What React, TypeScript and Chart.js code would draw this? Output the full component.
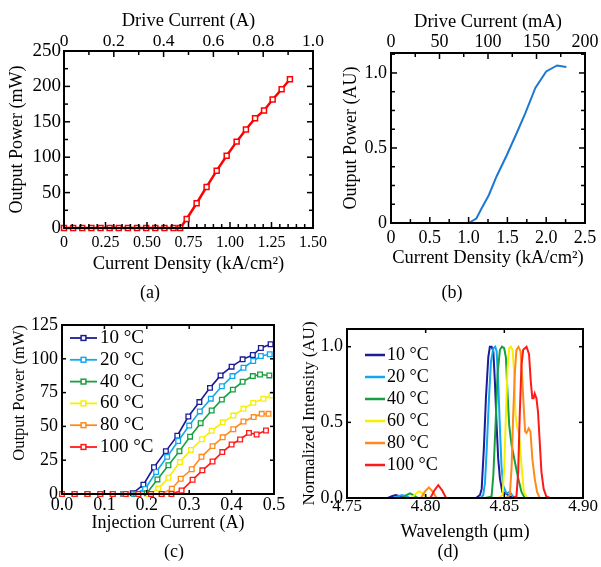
import React, { useEffect, useRef } from 'react';
import { Chart, registerables } from 'chart.js';

Chart.register(...registerables);

const SERIF = "'Liberation Serif', 'Times New Roman', Times, serif";
Chart.defaults.font.family = SERIF;
Chart.defaults.color = '#000';

// ---------------- (a) ----------------
const aDensity = [0, 0.055, 0.11, 0.165, 0.22, 0.275, 0.33, 0.385, 0.44, 0.495, 0.55, 0.605, 0.66, 0.70, 0.739, 0.799, 0.859, 0.92, 0.98, 1.04, 1.096, 1.151, 1.205, 1.257, 1.311, 1.361];
const aPower = [0, 0, 0, 0, 0, 0, 0, 0, 0, 0, 0, 0, 0, 0, 12.7, 35, 58, 81, 102, 122, 139, 155, 166, 181.5, 196, 210];
const aXTicks = [0, 0.25, 0.5, 0.75, 1.0, 1.25, 1.5];
const aTopTicks = [0, 0.2, 0.4, 0.6, 0.8, 1.0];
const aYTicks = [0, 50, 100, 150, 200, 250];

// ---------------- (b) ----------------
const bDensity = [0.68, 1.0, 1.1, 1.17, 1.26, 1.36, 1.49, 1.62, 1.73, 1.86, 2.0, 2.14, 2.26];
const bPower = [0, 0, 0.03, 0.1, 0.185, 0.31, 0.45, 0.6, 0.73, 0.9, 1.01, 1.05, 1.04];
const bXTicks = [0, 0.5, 1.0, 1.5, 2.0, 2.5];
const bTopTicks = [0, 50, 100, 150, 200];
const bYTicks = [0, 0.5, 1.0];

// ---------------- (c) ----------------
const tempLabels = ['10 °C', '20 °C', '40 °C', '60 °C', '80 °C', '100 °C'];
const tempColors = ['#1c1c96', '#12a8f0', '#17a040', '#f7ee00', '#ff8a1c', '#ff1a1a'];

const c10I = [0.0, 0.03, 0.06, 0.09, 0.12, 0.145, 0.167, 0.192, 0.217, 0.245, 0.272, 0.298, 0.324, 0.349, 0.374, 0.400, 0.426, 0.450, 0.469, 0.492];
const c10P = [0, 0, 0, 0, 0, 0, 0.5, 6.9, 19.8, 31.7, 43.1, 57.3, 68, 78.5, 87.7, 94.2, 99.6, 102.8, 108, 110.8];
const c20I = [0.0, 0.03, 0.06, 0.09, 0.12, 0.145, 0.17, 0.196, 0.222, 0.248, 0.274, 0.300, 0.325, 0.351, 0.377, 0.402, 0.428, 0.451, 0.469, 0.490];
const c20P = [0, 0, 0, 0, 0, 0, 0, 3.7, 16.3, 27.5, 39.2, 50.6, 61.1, 70.5, 79.7, 87.2, 93.4, 98.4, 102.1, 103.4];
const c40I = [0.0, 0.03, 0.06, 0.09, 0.12, 0.15, 0.175, 0.2, 0.225, 0.251, 0.277, 0.302, 0.327, 0.353, 0.377, 0.403, 0.426, 0.450, 0.467, 0.489];
const c40P = [0, 0, 0, 0, 0, 0, 0, 0.5, 10.8, 21.3, 31.7, 42.4, 52.4, 61.8, 69.8, 77.2, 83, 87.2, 88.4, 87.7];
const c60I = [0.0, 0.03, 0.06, 0.09, 0.12, 0.15, 0.18, 0.205, 0.227, 0.251, 0.278, 0.304, 0.33, 0.353, 0.379, 0.404, 0.428, 0.451, 0.475, 0.494];
const c60P = [0, 0, 0, 0, 0, 0, 0, 0, 4, 12, 23.6, 32.6, 40.5, 46.8, 53, 58, 63, 67.4, 70.4, 72.9];
const c80I = [0.0, 0.03, 0.06, 0.09, 0.12, 0.15, 0.18, 0.21, 0.235, 0.259, 0.280, 0.306, 0.329, 0.355, 0.379, 0.404, 0.428, 0.452, 0.471, 0.487];
const c80P = [0, 0, 0, 0, 0, 0, 0, 0, 0, 3.9, 11.3, 18.3, 27.5, 35.4, 41.9, 47.9, 53.6, 56.9, 59.3, 59.3];
const c100I = [0.0, 0.03, 0.06, 0.09, 0.12, 0.15, 0.18, 0.21, 0.235, 0.258, 0.282, 0.308, 0.331, 0.355, 0.378, 0.400, 0.420, 0.441, 0.459, 0.481];
const c100P = [0, 0, 0, 0, 0, 0, 0, 0, 0, 0, 2.6, 10.5, 17.5, 24, 31, 36.6, 40.3, 45.2, 44, 47];
const cXTicks = [0, 0.1, 0.2, 0.3, 0.4, 0.5];
const cYTicks = [0, 25, 50, 75, 100, 125];

// ---------------- (d) ----------------
const d10Wl = [4.75, 4.776, 4.7785, 4.781, 4.7835, 4.786, 4.832, 4.8345, 4.8356, 4.837, 4.8383, 4.8398, 4.8408, 4.8419, 4.843, 4.844, 4.8451, 4.8461, 4.8472, 4.8487, 4.851, 4.8535, 4.856, 4.90];
const d10In = [0, 0, 0.012, 0.02, 0.012, 0, 0, 0.02, 0.06, 0.33, 0.66, 0.93, 1.0, 1.0, 0.97, 0.77, 0.48, 0.26, 0.13, 0.04, 0.03, 0.01, 0, 0];
const d20Wl = [4.75, 4.780, 4.7825, 4.785, 4.7875, 4.790, 4.835, 4.8366, 4.8377, 4.8387, 4.8402, 4.8415, 4.843, 4.8442, 4.8451, 4.8461, 4.8472, 4.8482, 4.8493, 4.8514, 4.8535, 4.8556, 4.858, 4.90];
const d20In = [0, 0, 0.012, 0.02, 0.012, 0, 0, 0.02, 0.1, 0.3, 0.65, 0.9, 0.99, 1.0, 0.97, 0.77, 0.46, 0.21, 0.08, 0.03, 0.04, 0.01, 0, 0];
const d40Wl = [4.75, 4.785, 4.7875, 4.790, 4.7925, 4.795, 4.838, 4.8419, 4.843, 4.8444, 4.8457, 4.8472, 4.8485, 4.8499, 4.851, 4.852, 4.8531, 4.8546, 4.8567, 4.8588, 4.8609, 4.863, 4.90];
const d40In = [0, 0, 0.018, 0.03, 0.018, 0, 0, 0.01, 0.15, 0.48, 0.82, 0.98, 1.0, 0.99, 0.93, 0.7, 0.48, 0.35, 0.24, 0.13, 0.04, 0, 0];
const d60Wl = [4.75, 4.791, 4.7935, 4.796, 4.7985, 4.801, 4.846, 4.8489, 4.8499, 4.851, 4.852, 4.8531, 4.8541, 4.8552, 4.8562, 4.8571, 4.8581, 4.8594, 4.8609, 4.8624, 4.8645, 4.90];
const d60In = [0, 0, 0.027, 0.045, 0.027, 0, 0, 0.02, 0.2, 0.54, 0.85, 0.99, 1.0, 0.98, 0.84, 0.55, 0.47, 0.42, 0.22, 0.04, 0, 0];
const d80Wl = [4.75, 4.797, 4.7995, 4.802, 4.8045, 4.807, 4.851, 4.8535, 4.8546, 4.8556, 4.8567, 4.8577, 4.859, 4.8603, 4.8613, 4.8624, 4.8632, 4.8641, 4.8655, 4.8666, 4.8678, 4.8693, 4.8708, 4.8725, 4.90];
const d80In = [0, 0, 0.042, 0.07, 0.042, 0, 0, 0.02, 0.2, 0.54, 0.83, 0.98, 1.0, 0.97, 0.81, 0.59, 0.44, 0.43, 0.46, 0.44, 0.26, 0.13, 0.04, 0, 0];
const d100Wl = [4.75, 4.803, 4.8055, 4.808, 4.8105, 4.813, 4.855, 4.8577, 4.8588, 4.8598, 4.8609, 4.862, 4.8641, 4.8657, 4.8668, 4.8678, 4.8686, 4.8693, 4.8704, 4.8714, 4.8725, 4.8736, 4.875, 4.8767, 4.879, 4.90];
const d100In = [0, 0, 0.05, 0.085, 0.05, 0, 0, 0.01, 0.17, 0.55, 0.88, 0.98, 1.0, 0.95, 0.77, 0.66, 0.66, 0.69, 0.66, 0.57, 0.37, 0.17, 0.06, 0.01, 0, 0];
const dXTicks = [4.75, 4.80, 4.85, 4.90];
const dYTicks = [0, 0.5, 1.0];

// ---------------- helpers ----------------
const pts = (xs: number[], ys: number[]) => xs.map((x, i) => ({ x, y: ys[i] }));

function marksFrom(min: number, max: number, step: number) {
  const out: number[] = [];
  const n = Math.round((max - min) / step);
  for (let i = 0; i <= n; i++) out.push(+(min + i * step).toFixed(6));
  return out;
}

type Side = 'top' | 'bottom' | 'left' | 'right';

interface AxisOpts {
  position: Side; min: number; max: number;
  labels: number[];
  fmt?: (v: number) => string;
  size?: number; pad?: number; thick: number;
  title?: string; titleSize?: number; titlePad?: { top: number; bottom: number }; align?: string;
}

function axis(o: AxisOpts) {
  const vertical = o.position === 'left' || o.position === 'right';
  return {
    type: 'linear',
    position: o.position,
    min: o.min,
    max: o.max,
    grid: { display: false, drawTicks: false },
    border: { display: true, color: '#000', width: 2 },
    ticks: {
      display: o.labels.length > 0,
      autoSkip: false, maxRotation: 0, minRotation: 0,
      padding: o.pad || 0, color: '#000',
      font: { family: SERIF, size: o.size || 18, lineHeight: 1 },
      callback: (v: any) => (o.fmt ? o.fmt(Number(v)) : ''),
    },
    afterBuildTicks: (s: any) => { s.ticks = (o.labels.length ? o.labels : [o.min, o.max]).map((v) => ({ value: v })); },
    title: o.title
      ? { display: true, text: o.title, color: '#000', align: o.align || 'center', font: { family: SERIF, size: o.titleSize, lineHeight: 1 }, padding: o.titlePad }
      : { display: false },
    afterFit: (s: any) => {
      if (vertical) s.width = o.thick; else s.height = o.thick;
      s.paddingLeft = 0; s.paddingRight = 0; s.paddingTop = 0; s.paddingBottom = 0;
    },
  };
}

interface TickSpec { scale: string; side: Side; marks: number[]; majors: number[]; }
interface LegendCfg { x: number; y: number; dy: number; len: number; gap: number; size: number; lineWidth: number; marker: number; }

// frame box + inward tick marks, drawn with filled rectangles, and the in-plot legend
function makeDecor(specs: TickSpec[], legend?: LegendCfg) {
  return {
    id: 'decor',
    afterDatasetsDraw(chart: any) {
      const ctx = chart.ctx;
      const sx = chart.scales.x;
      const sy = chart.scales.y;
      const L = sx.left, R = sx.right, T = sy.top, B = sy.bottom;
      ctx.save();
      ctx.fillStyle = '#000';
      // frame
      ctx.fillRect(L - 1, T - 1, R - L + 2, 2);
      ctx.fillRect(L - 1, B - 1, R - L + 2, 2);
      ctx.fillRect(L - 1, T - 1, 2, B - T + 2);
      ctx.fillRect(R - 1, T - 1, 2, B - T + 2);
      // ticks
      specs.forEach((t) => {
        const s = chart.scales[t.scale];
        if (!s) return;
        t.marks.forEach((v) => {
          const major = t.majors.some((m) => Math.abs(m - v) < 1e-6);
          const len = major ? 6 : 4;
          const p = s.getPixelForValue(v);
          if (t.side === 'bottom') ctx.fillRect(p - 0.75, B - len, 1.5, len);
          else if (t.side === 'top') ctx.fillRect(p - 0.75, T, 1.5, len);
          else if (t.side === 'left') ctx.fillRect(L, p - 0.75, len, 1.5);
          else ctx.fillRect(R - len, p - 0.75, len, 1.5);
        });
      });
      // legend
      if (legend) {
        ctx.font = `${legend.size}px ${SERIF}`;
        ctx.textBaseline = 'middle';
        ctx.textAlign = 'left';
        chart.data.datasets.forEach((ds: any, i: number) => {
          const y = legend.y + i * legend.dy;
          ctx.strokeStyle = ds.borderColor;
          ctx.lineWidth = legend.lineWidth;
          ctx.beginPath();
          ctx.moveTo(legend.x, y);
          ctx.lineTo(legend.x + legend.len, y);
          ctx.stroke();
          if (legend.marker > 0) {
            const cx = legend.x + legend.len / 2;
            const h = legend.marker;
            ctx.fillStyle = '#fff';
            ctx.lineWidth = 1.5;
            ctx.fillRect(cx - h, y - h, 2 * h, 2 * h);
            ctx.strokeRect(cx - h, y - h, 2 * h, 2 * h);
          }
          ctx.fillStyle = '#000';
          ctx.fillText(ds.label, legend.x + legend.len + legend.gap, y);
        });
      }
      ctx.restore();
    },
  };
}

const baseOptions = () => ({
  responsive: false,
  animation: false,
  devicePixelRatio: 1,
  events: [],
  layout: { padding: 0 },
  plugins: { legend: { display: false }, tooltip: { enabled: false }, title: { display: false } },
});

// ---------------- configs ----------------
function configA(): any {
  const xm = marksFrom(0, 1.5, 0.05);
  const tm = marksFrom(0, 1.0, 0.1);
  const ym = marksFrom(0, 250, 25);
  return {
    type: 'line',
    data: {
      datasets: [{
        label: 'a', data: pts(aDensity, aPower), xAxisID: 'x', yAxisID: 'y',
        borderColor: '#ff0000', backgroundColor: '#fff', borderWidth: 2.5,
        pointStyle: 'rect', pointRadius: 3.5, pointBorderWidth: 1.5,
        pointBackgroundColor: '#fff', pointBorderColor: '#ff0000', tension: 0, clip: 6,
      }],
    },
    options: {
      ...baseOptions(),
      scales: {
        x: axis({ position: 'bottom', min: 0, max: 1.5, labels: aXTicks, fmt: (v) => (v === 0 ? '0' : v.toFixed(2)), size: 16, pad: 6.5, thick: 52, title: 'Current Density (kA/cm²)', titleSize: 18.5, titlePad: { top: 0, bottom: 7 } }),
        x2: axis({ position: 'top', min: 0, max: 1.0, labels: aTopTicks, fmt: (v) => (v === 0 ? '0' : v.toFixed(1)), size: 17.5, pad: 0.5, thick: 51, title: 'Drive Current (A)', titleSize: 18.5, titlePad: { top: 12, bottom: 0 } }),
        y: axis({ position: 'left', min: 0, max: 250, labels: aYTicks, fmt: (v) => String(v), size: 19, pad: 3, thick: 64, title: 'Output Power (mW)', titleSize: 18, titlePad: { top: 8, bottom: 0 } }),
        y2: axis({ position: 'right', min: 0, max: 250, labels: [], thick: 17 }),
      },
    },
    plugins: [makeDecor([
      { scale: 'x', side: 'bottom', marks: xm, majors: aXTicks },
      { scale: 'x2', side: 'top', marks: tm, majors: aTopTicks },
      { scale: 'y', side: 'left', marks: ym, majors: aYTicks },
      { scale: 'y', side: 'right', marks: ym, majors: aYTicks },
    ])],
  };
}

function configB(): any {
  const xm = marksFrom(0, 2.5, 0.25);
  const tm = marksFrom(0, 200, 25);
  const ym = marksFrom(0, 1.125, 0.125);
  return {
    type: 'line',
    data: {
      datasets: [{
        label: 'b', data: pts(bDensity, bPower), xAxisID: 'x', yAxisID: 'y',
        borderColor: '#1e78d2', borderWidth: 2, pointRadius: 0, tension: 0,
      }],
    },
    options: {
      ...baseOptions(),
      scales: {
        x: axis({ position: 'bottom', min: 0, max: 2.5, labels: bXTicks, fmt: (v) => (v === 0 ? '0' : v.toFixed(1)), size: 18, pad: 6, thick: 57, title: 'Current Density (kA/cm²)', titleSize: 18.5, titlePad: { top: 0, bottom: 13 } }),
        x2: axis({ position: 'top', min: 0, max: 200, labels: bTopTicks, fmt: (v) => String(v), size: 18, pad: 1.5, thick: 53, title: 'Drive Current (mA)', titleSize: 18.5, titlePad: { top: 13, bottom: 0 } }),
        y: axis({ position: 'left', min: 0, max: 1.133, labels: bYTicks, fmt: (v) => (v === 0 ? '0' : v.toFixed(1)), size: 18, pad: 4, thick: 91, title: 'Output Power (AU)', titleSize: 18, titlePad: { top: 42, bottom: 0 } }),
        y2: axis({ position: 'right', min: 0, max: 1.133, labels: [], thick: 16 }),
      },
    },
    plugins: [makeDecor([
      { scale: 'x', side: 'bottom', marks: xm, majors: bXTicks },
      { scale: 'x2', side: 'top', marks: tm, majors: bTopTicks },
      { scale: 'y', side: 'left', marks: ym, majors: bYTicks },
      { scale: 'y', side: 'right', marks: ym, majors: bYTicks },
    ])],
  };
}

function configC(): any {
  const xs = [c10I, c20I, c40I, c60I, c80I, c100I];
  const ys = [c10P, c20P, c40P, c60P, c80P, c100P];
  return {
    type: 'line',
    data: {
      datasets: tempLabels.map((label, i) => ({
        label, data: pts(xs[i], ys[i]), xAxisID: 'x', yAxisID: 'y',
        borderColor: tempColors[i], borderWidth: 1.6, tension: 0,
        pointStyle: 'rect', pointRadius: 3.3, pointBorderWidth: 1.3,
        pointBackgroundColor: '#fff', pointBorderColor: tempColors[i],
        order: 5 - i, clip: 6,
      })),
    },
    options: {
      ...baseOptions(),
      scales: {
        x: axis({ position: 'bottom', min: 0, max: 0.5, labels: cXTicks, fmt: (v) => v.toFixed(1), size: 18, pad: 2.5, thick: 66, title: 'Injection Current (A)', titleSize: 18, titlePad: { top: 0, bottom: 28 } }),
        x2: axis({ position: 'top', min: 0, max: 0.5, labels: [], thick: 25 }),
        y: axis({ position: 'left', min: 0, max: 125, labels: cYTicks, fmt: (v) => String(v), size: 18, pad: 4, thick: 62, title: 'Output Power (mW)', titleSize: 16.5, titlePad: { top: 11, bottom: 0 }, align: 'end' }),
        y2: axis({ position: 'right', min: 0, max: 125, labels: [], thick: 26 }),
      },
    },
    plugins: [makeDecor([
      { scale: 'x', side: 'bottom', marks: cXTicks, majors: [] },
      { scale: 'x', side: 'top', marks: cXTicks, majors: [] },
      { scale: 'y', side: 'left', marks: cYTicks, majors: [] },
      { scale: 'y', side: 'right', marks: cYTicks, majors: [] },
    ], { x: 70, y: 38, dy: 21.8, len: 27, gap: 3, size: 19, lineWidth: 1.8, marker: 2.4 })],
  };
}

function configD(): any {
  const xs = [d10Wl, d20Wl, d40Wl, d60Wl, d80Wl, d100Wl];
  const ys = [d10In, d20In, d40In, d60In, d80In, d100In];
  return {
    type: 'line',
    data: {
      datasets: tempLabels.map((label, i) => ({
        label, data: pts(xs[i], ys[i]), xAxisID: 'x', yAxisID: 'y',
        borderColor: tempColors[i], borderWidth: 2, tension: 0, pointRadius: 0,
        order: 5 - i,
      })),
    },
    options: {
      ...baseOptions(),
      scales: {
        x: axis({ position: 'bottom', min: 4.75, max: 4.90, labels: dXTicks, fmt: (v) => v.toFixed(2), size: 17, pad: 0.5, thick: 62, title: 'Wavelength (μm)', titleSize: 18.5, titlePad: { top: 0, bottom: 19 } }),
        x2: axis({ position: 'top', min: 4.75, max: 4.90, labels: [], thick: 29 }),
        y: axis({ position: 'left', min: 0, max: 1.117, labels: dYTicks, fmt: (v) => v.toFixed(1), size: 18, pad: 4, thick: 47, title: 'Normalized Intensity (AU)', titleSize: 17, titlePad: { top: 1.5, bottom: 0 } }),
        y2: axis({ position: 'right', min: 0, max: 1.117, labels: [], thick: 18 }),
      },
    },
    plugins: [makeDecor([
      { scale: 'x', side: 'bottom', marks: dXTicks, majors: [] },
      { scale: 'x', side: 'top', marks: dXTicks, majors: [] },
      { scale: 'y', side: 'left', marks: dYTicks, majors: [] },
      { scale: 'y', side: 'right', marks: dYTicks, majors: [] },
    ], { x: 65, y: 55, dy: 22, len: 20, gap: 2, size: 18, lineWidth: 2.5, marker: 0 })],
  };
}

function ChartCanvas(props: { left: number; top: number; width: number; height: number; make: () => any }) {
  const ref = useRef<HTMLCanvasElement>(null);
  useEffect(() => {
    const chart = new Chart(ref.current as HTMLCanvasElement, props.make());
    return () => chart.destroy();
  }, []);
  return (
    <canvas
      ref={ref}
      width={props.width}
      height={props.height}
      style={{ position: 'absolute', left: props.left, top: props.top, width: props.width, height: props.height }}
    />
  );
}

function PanelLabel(props: { x: number; y: number; text: string }) {
  return (
    <div style={{ position: 'absolute', left: props.x - 20, top: props.y - 11, width: 40, height: 22, lineHeight: '22px', textAlign: 'center', fontFamily: SERIF, fontSize: 18, color: '#000' }}>
      {props.text}
    </div>
  );
}

export default function App() {
  useEffect(() => {
    document.body.style.margin = '0';
  }, []);
  return (
    <div style={{ position: 'absolute', left: 0, top: 0, width: 601, height: 567, background: '#fff', overflow: 'hidden' }}>
      <ChartCanvas left={0} top={0} width={330} height={280} make={configA} />
      <ChartCanvas left={300} top={0} width={301} height={280} make={configB} />
      <ChartCanvas left={0} top={300} width={300} height={260} make={configC} />
      <ChartCanvas left={300} top={300} width={301} height={260} make={configD} />
      <PanelLabel x={150} y={292} text="(a)" />
      <PanelLabel x={452} y={292} text="(b)" />
      <PanelLabel x={174} y={551} text="(c)" />
      <PanelLabel x={448} y={551} text="(d)" />
    </div>
  );
}
